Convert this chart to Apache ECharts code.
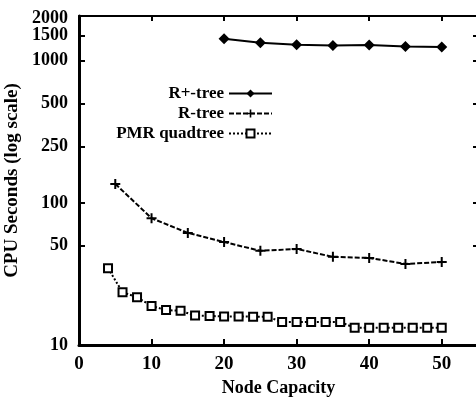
<!DOCTYPE html>
<html>
<head>
<meta charset="utf-8">
<script src="https://cdn.jsdelivr.net/npm/echarts@6/dist/echarts.min.js"></script>
<style>
html,body{margin:0;padding:0;background:#fff;}
#c{width:476px;height:397px;}
</style>
</head>
<body>
<div id="c"></div>
<script>
var seriesNames = ['R+-tree', 'R-tree', 'PMR quadtree'];
var rplusX = [20, 25, 30, 35, 40, 45, 50];
var rplusY = [1430, 1340, 1296, 1281, 1290, 1261, 1248];
var rtreeX = [5, 10, 15, 20, 25, 30, 35, 40, 45, 50];
var rtreeY = [136, 78, 61.5, 53, 46, 47.4, 41.7, 41, 37.2, 38.4];
var pmrX = [4, 6, 8, 10, 12, 14, 16, 18, 20, 22, 24, 26, 28, 30, 32, 34, 36, 38, 40, 42, 44, 46, 48, 50];
var pmrY = [34.7, 23.5, 21.7, 18.8, 17.6, 17.4, 16.1, 16.0, 15.9, 15.9, 15.8, 15.8, 14.5, 14.5, 14.5, 14.5, 14.5, 13.2, 13.2, 13.2, 13.2, 13.2, 13.2, 13.2];
var xTickLabels = [0, 10, 20, 30, 40, 50];
var yTickLabels = [10, 50, 100, 250, 500, 1000, 1500];
var yTopLabel = [2000];
var xTitle = 'Node Capacity';
var yTitle = 'CPU Seconds (log scale)';

function pairs(xs, ys) { return xs.map(function (x, i) { return [x, ys[i]]; }); }

var font = 'Liberation Serif';
var plusPath = 'path://M4,0H6V4H10V6H6V10H4V6H0V4H4Z';
var yMin = 10, yMax = 2065;
var yLabelStyle = {margin: 11, fontFamily: font, fontWeight: 'bold', fontSize: 18, color: '#000',
  hideOverlap: false, formatter: function (v) { return String(Math.round(v)); }};

var chart = echarts.init(document.getElementById('c'), null, {renderer: 'canvas'});
chart.setOption({
  backgroundColor: '#fff',
  animation: false,
  grid: {left: 79, top: 16, bottom: 52, right: -2, containLabel: false, outerBoundsMode: 'none'},
  legend: {
    orient: 'vertical',
    align: 'right',
    right: 203,
    top: 85,
    padding: 0,
    itemWidth: 43,
    itemHeight: 10,
    itemGap: 3,
    data: seriesNames,
    textStyle: {fontFamily: font, fontWeight: 'bold', fontSize: 17, color: '#000', lineHeight: 17}
  },
  xAxis: [{
    type: 'value', min: 0, max: 55, position: 'bottom',
    name: xTitle, nameLocation: 'middle', nameGap: 33,
    nameTextStyle: {fontFamily: font, fontWeight: 'bold', fontSize: 18, color: '#000'},
    axisLine: {show: true, lineStyle: {color: '#000', width: 3}},
    axisTick: {show: true, inside: true, length: 6, customValues: xTickLabels.slice(1), lineStyle: {color: '#000', width: 2}},
    axisLabel: {customValues: xTickLabels, margin: 10, fontFamily: font, fontWeight: 'bold', fontSize: 19, color: '#000'},
    splitLine: {show: false}
  }, {
    type: 'value', min: 0, max: 55, position: 'top',
    axisLine: {show: true, onZero: false, lineStyle: {color: '#000', width: 2}},
    axisTick: {show: true, inside: true, length: 5, customValues: xTickLabels.slice(1), lineStyle: {color: '#000', width: 2}},
    axisLabel: {show: false},
    splitLine: {show: false}
  }],
  yAxis: [{
    type: 'log', logBase: 10, min: yMin, max: yMax, position: 'left',
    name: yTitle, nameLocation: 'middle', nameGap: 52, nameRotate: 90,
    nameTextStyle: {fontFamily: font, fontWeight: 'bold', fontSize: 19, color: '#000'},
    axisLine: {show: true, lineStyle: {color: '#000', width: 3}},
    axisTick: {show: true, inside: true, length: 6, customValues: yTickLabels.slice(1), lineStyle: {color: '#000', width: 2}},
    axisLabel: Object.assign({customValues: yTickLabels, showMaxLabel: true, showMinLabel: true}, yLabelStyle),
    splitLine: {show: false},
    minorTick: {show: false}
  }, {
    type: 'log', logBase: 10, min: yMin, max: yMax, position: 'right',
    axisLine: {show: true, onZero: false, lineStyle: {color: '#000', width: 2}},
    axisTick: {show: true, inside: true, length: 5, customValues: yTickLabels.slice(1), lineStyle: {color: '#000', width: 2}},
    axisLabel: {show: false},
    splitLine: {show: false}
  }, {
    type: 'log', logBase: 10, min: yMin, max: yMax, position: 'left', offset: 0,
    axisLine: {show: false},
    axisTick: {show: false},
    axisLabel: Object.assign({customValues: yTopLabel, showMaxLabel: true}, yLabelStyle),
    splitLine: {show: false}
  }],
  series: [{
    name: seriesNames[0], type: 'line', xAxisIndex: 0, yAxisIndex: 0,
    data: pairs(rplusX, rplusY),
    symbol: 'diamond', symbolSize: 11,
    itemStyle: {color: '#000'},
    lineStyle: {color: '#000', width: 2, type: 'solid'}
  }, {
    name: seriesNames[1], type: 'line', xAxisIndex: 0, yAxisIndex: 0,
    data: pairs(rtreeX, rtreeY),
    symbol: plusPath, symbolSize: 10,
    itemStyle: {color: '#000'},
    lineStyle: {color: '#000', width: 2, type: [5, 2]}
  }, {
    name: seriesNames[2], type: 'line', xAxisIndex: 0, yAxisIndex: 0,
    data: pairs(pmrX, pmrY),
    symbol: 'rect', symbolSize: 8,
    itemStyle: {color: '#fff', borderColor: '#000', borderWidth: 2},
    lineStyle: {color: '#000', width: 2, type: [2, 2]}
  }]
});
</script>
</body>
</html>
